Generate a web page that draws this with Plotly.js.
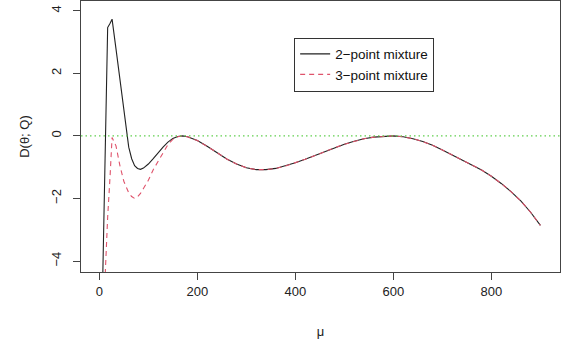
<!DOCTYPE html>
<html>
<head>
<meta charset="utf-8">
<script src="https://cdn.plot.ly/plotly-3.0.1.min.js"></script>
<style>html,body{margin:0;padding:0;background:#fff;}#chart{width:570px;height:342px;}</style>
</head>
<body>
<div id="chart"></div>
<script>
// mu grid
var mu = [5, 10, 17, 22, 26, 34, 42, 50, 56, 60, 66, 72, 78, 84, 90, 100, 110, 120, 130, 140, 150, 160, 170,
  180, 200, 220, 240, 260, 280, 300, 320, 340, 360, 380, 400, 420, 440, 460, 480, 500, 520, 540, 560, 580, 600,
  620, 640, 660, 680, 700, 720, 740, 760, 780, 800, 820, 840, 860, 880, 900];
// 2-point mixture D(theta; Q)
var twoPoint = [-6.1, -2.1, 3.46, 3.6, 3.73, 2.78, 1.8, 0.82, 0.05, -0.36, -0.73, -0.95, -1.04, -1.07, -1.03, -0.9, -0.73, -0.54, -0.36, -0.2, -0.08, -0.02, 0,
  -0.03, -0.15, -0.33, -0.53, -0.74, -0.9, -1.02, -1.08, -1.08, -1.04, -0.96, -0.86, -0.75, -0.63, -0.5, -0.38, -0.27, -0.17, -0.09, -0.04, -0.01, 0,
  -0.03, -0.09, -0.18, -0.3, -0.45, -0.61, -0.77, -0.92, -1.09, -1.29, -1.52, -1.78, -2.08, -2.44, -2.86];
// 3-point mixture D(theta; Q)
var threePoint = [-7.0, -4.9, -2.6, -1.27, -0.05, -0.32, -0.95, -1.45, -1.7, -1.82, -1.94, -2.0, -1.95, -1.84, -1.68, -1.42, -1.08, -0.8, -0.52, -0.28, -0.11, -0.03, 0,
  -0.03, -0.15, -0.33, -0.53, -0.74, -0.9, -1.02, -1.08, -1.08, -1.04, -0.96, -0.86, -0.75, -0.63, -0.5, -0.38, -0.27, -0.17, -0.09, -0.04, -0.01, 0,
  -0.03, -0.09, -0.18, -0.3, -0.45, -0.61, -0.77, -0.92, -1.09, -1.29, -1.52, -1.78, -2.08, -2.44, -2.86];
var seriesNames = ['2\u2212point mixture', '3\u2212point mixture'];
var xTicks = [0, 200, 400, 600, 800];
var yTicks = [-4, -2, 0, 2, 4];
var refLevel = 0;

var font = "'Liberation Sans', Arial, sans-serif";
var traces = [
  {x: mu, y: twoPoint, type: 'scatter', mode: 'lines', name: seriesNames[0],
   line: {color: '#222222', width: 1.1}},
  {x: mu, y: threePoint, type: 'scatter', mode: 'lines', name: seriesNames[1],
   line: {color: '#DF536B', width: 1.1, dash: '5px,4px'}}
];
var axisCommon = {
  showline: true, mirror: true, linecolor: '#444', linewidth: 1,
  ticks: 'outside', ticklen: 7, tickcolor: '#444', tickwidth: 1,
  showgrid: false, zeroline: false,
  tickfont: {family: font, size: 13, color: '#222'}
};
var layout = {
  width: 570, height: 342,
  margin: {l: 81, r: 10, t: 1, b: 70},
  paper_bgcolor: '#fff', plot_bgcolor: '#fff',
  showlegend: true,
  legend: {x: 0.445, y: 0.865, xanchor: 'left', yanchor: 'top',
           bordercolor: '#333', borderwidth: 1, bgcolor: '#fff',
           font: {family: font, size: 13.5, color: '#111'}},
  xaxis: Object.assign({}, axisCommon, {
    range: [-37.4, 940], tickvals: xTicks,
    title: {text: '\u03bc', font: {family: font, size: 13, color: '#222'}, standoff: 29}
  }),
  yaxis: Object.assign({}, axisCommon, {
    range: [-4.35, 4.31], tickvals: yTicks, tickangle: -90, ticklabelstandoff: 7,
    title: {text: 'D(\u03b8; Q)', font: {family: font, size: 13, color: '#222'}, standoff: 16}
  }),
  shapes: [{type: 'line', xref: 'paper', x0: 0, x1: 1, yref: 'y', y0: refLevel, y1: refLevel,
            line: {color: '#61D04F', width: 1.2, dash: '1.5px,3px'}, layer: 'above'}]
};
Plotly.newPlot('chart', traces, layout, {displayModeBar: false, staticPlot: true});
</script>
</body>
</html>
